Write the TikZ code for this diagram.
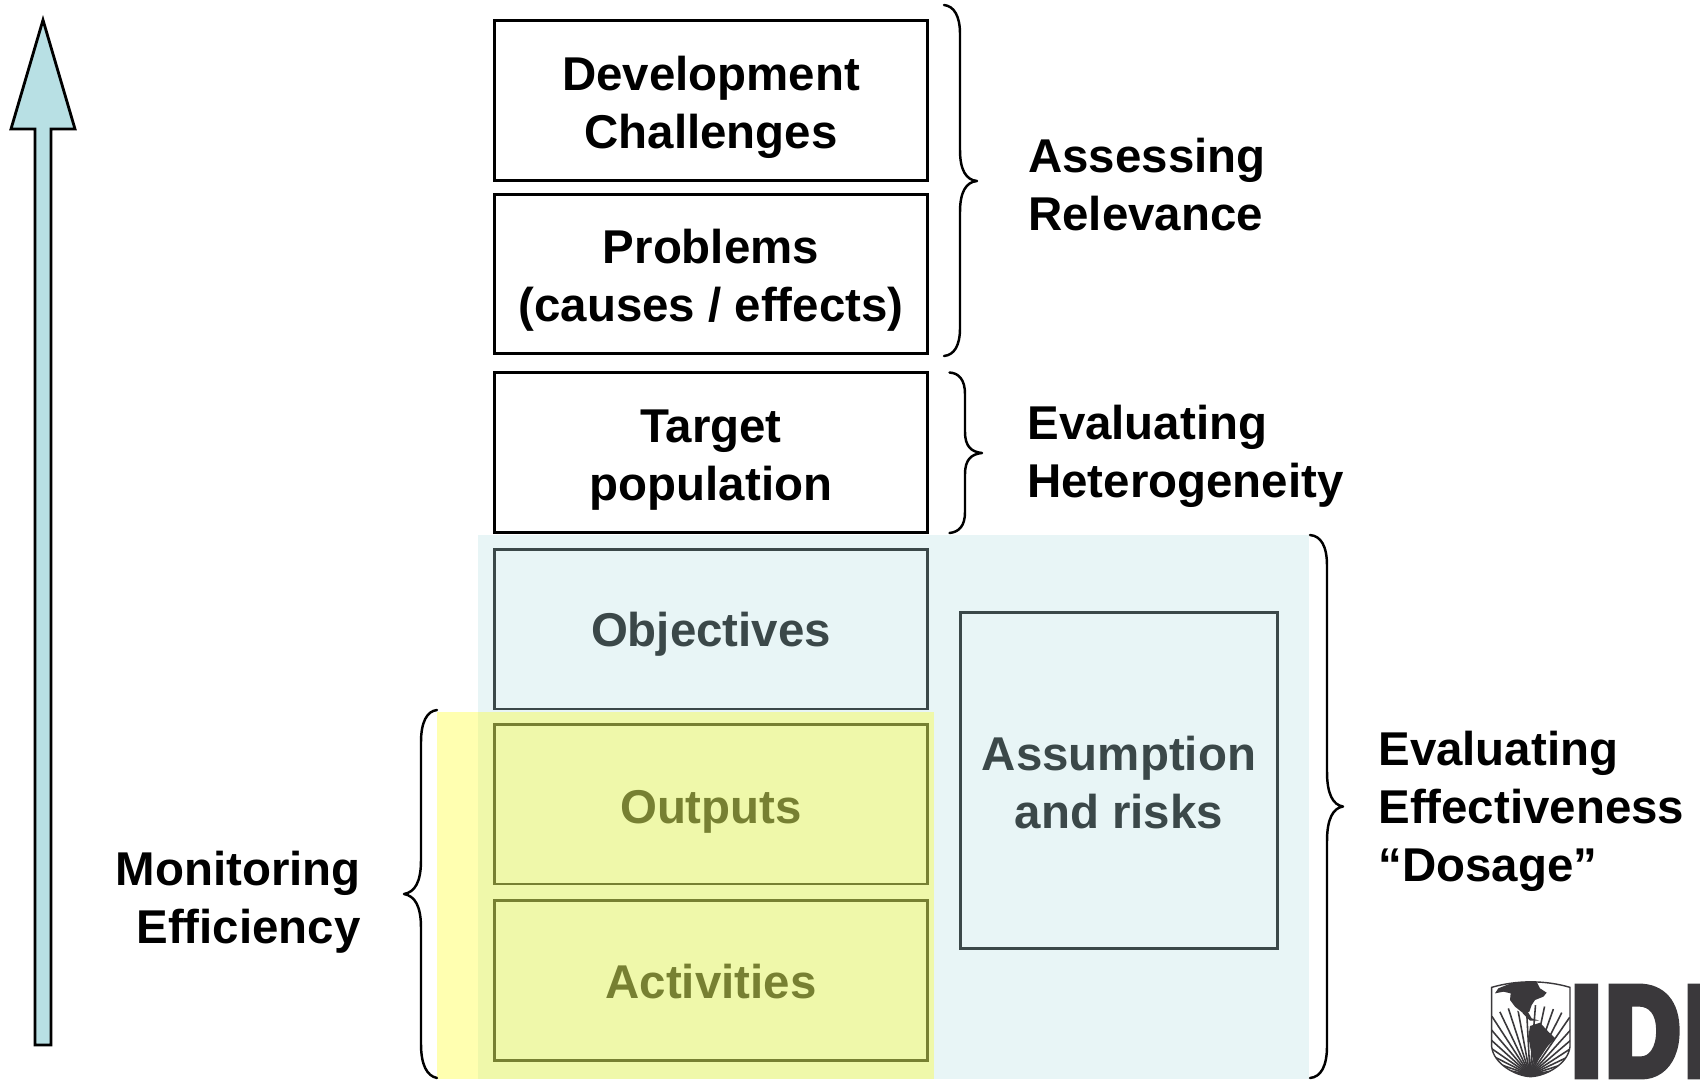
\documentclass[tikz,border=0pt]{standalone}
\usepackage{fontspec}
\setmainfont{Liberation Sans}
\newfontfamily\logofont[FakeBold=7,FakeStretch=0.8,LetterSpace=4.7]{Liberation Sans}
\definecolor{tealfill}{HTML}{B8E0E4}
\definecolor{veilyellow}{HTML}{FFFF00}
\definecolor{logodark}{HTML}{3A383B}
\tikzset{
  boxnode/.style={draw=black,line width=1.7pt,fill=none,inner sep=0pt,minimum width=8.68cm,minimum height=3.2cm},
  labelnode/.style={inner sep=0pt,font=\bfseries\fontsize{27}{33}\selectfont},
  bracepath/.style={draw=black,line width=1.4pt,line cap=round,line join=round},
  tealveil/.style={fill=tealfill,opacity=0.32,draw=none},
  yellowveil/.style={fill=veilyellow,opacity=0.31,draw=none},
  logoink/.style={fill=logodark,draw=none},
  logoline/.style={draw=logodark,line width=0.9pt}
}
\begin{document}
\begin{tikzpicture}[x=0.02cm,y=-0.02cm]
\useasboundingbox (0,0) rectangle (1700,1079);
\clip (0,0) rectangle (1700,1079);
% arrow
\draw[fill=tealfill,draw=black,line width=1.6pt,line join=miter]
  (43,20) -- (75,129) -- (51,129) -- (51,1045) -- (35,1045) -- (35,129) -- (11,129) -- cycle;
% boxes
\node[boxnode] (dev) at (711,100.5) {};
\node[boxnode] (prob) at (711,274) {};
\node[boxnode] (targ) at (711,452.5) {};
\node[boxnode] (obj) at (711,629) {};
\node[boxnode] (outp) at (711,804) {};
\node[boxnode] (act) at (711,980.5) {};
\node[boxnode,minimum width=6.36cm,minimum height=6.72cm] (assum) at (1119,780.5) {};
% box texts
\node[labelnode,align=center] (devt) at (711,107) {Development\\Challenges};
\node[labelnode,align=center] (probt) at (711,280.5) {Problems\\(causes / effects)};
\node[labelnode,align=center] (targt) at (711,460) {Target\\population};
\node[labelnode,align=center] (objt) at (711,634.5) {Objectives};
\node[labelnode,align=center] (outpt) at (711,811.5) {Outputs};
\node[labelnode,align=center] (actt) at (711,981.5) {Activities};
\node[labelnode,align=center] (assumt) at (1119,782.5) {Assumption\\and risks};
% veils
\fill[tealveil] (478,534.5) rectangle (1308.5,1079);
\fill[yellowveil] (437,712) rectangle (933.5,1079);
% braces
\draw[bracepath] (944,5) .. controls (954,6) and (960,16) .. (960,34) -- (960,150)
  .. controls (960,170) and (966,180) .. (977,181)
  .. controls (966,182) and (960,192) .. (960,212) -- (960,328)
  .. controls (960,346) and (954,355) .. (944,356);
\draw[bracepath] (949.5,372.5) .. controls (959,373) and (965,380) .. (965,394) -- (965,432)
  .. controls (965,446) and (971,452) .. (982,453)
  .. controls (971,454) and (965,460) .. (965,474) -- (965,512)
  .. controls (965,526) and (959,532) .. (949.5,533);
\draw[bracepath] (1310,535) .. controls (1321,536) and (1327,546) .. (1327,566) -- (1327,772)
  .. controls (1327,794) and (1333,805) .. (1343,806.5)
  .. controls (1333,808) and (1327,819) .. (1327,841) -- (1327,1046)
  .. controls (1327,1066) and (1321,1077) .. (1310,1078);
\draw[bracepath] (437,710) .. controls (427,711) and (421,722) .. (421,742) -- (421,860)
  .. controls (421,882) and (415,892) .. (404,894)
  .. controls (415,896) and (421,906) .. (421,928) -- (421,1044)
  .. controls (421,1065) and (427,1076) .. (437,1078);
% labels
\node[labelnode,anchor=west,align=left] (relev) at (1028,184.5) {Assessing\\Relevance};
\node[labelnode,anchor=west,align=left] (heter) at (1027,456) {Evaluating\\Heterogeneity};
\node[labelnode,anchor=west,align=left] (effect) at (1378,811) {Evaluating\\Effectiveness\\“Dosage”};
\node[labelnode,anchor=east,align=right] (monit) at (361,902.5) {Monitoring\\Efficiency};
% logo
\begin{scope}[shift={(1440,950)},x=0.02cm/3,y=-0.02cm/3]
  \begin{scope}
    \clip (155,112) .. controls (230,90) and (315,90) .. (390,112) -- (390,290)
      .. controls (385,340) and (320,378) .. (272,380) .. controls (225,378) and (160,340) .. (155,290) -- cycle;
    \foreach \a in {3,10.5,...,177} {
      \draw[logoline] (270,375) -- +({\a}:{210} and {-210});
    }
    \fill[white] (200,160) -- (230,97) -- (300,97) -- (330,150) -- (275,165) -- (265,200) -- (220,175) -- cycle;
    \fill[logoink] (270,378) ellipse (42 and 24);
    \fill[logoink] (165,130) -- (175,115) -- (200,105) -- (230,95) -- (290,95) -- (300,115) -- (320,128) -- (310,140) -- (285,150) -- (275,165) -- (268,185) -- (250,190) -- (225,170) -- (210,150) -- (212,130) -- (190,125) -- cycle;
    \fill[logoink] (248,190) -- (262,183) -- (275,205) -- (298,212) -- (270,212) -- cycle;
    \fill[logoink] (270,228) -- (300,218) -- (325,245) -- (346,265) -- (322,290) -- (302,320) -- (282,345) -- (272,300) -- (265,260) -- cycle;
  \end{scope}
  \draw[logodark,line width=0.8pt] (155,112) .. controls (230,90) and (315,90) .. (390,112) -- (390,290)
      .. controls (385,340) and (320,378) .. (272,380) .. controls (225,378) and (160,340) .. (155,290) -- cycle;
\end{scope}
\node[anchor=base west,inner sep=0pt,text=logodark,font=\logofont\bfseries\fontsize{72}{72}\selectfont] (logotext) at (1572,1075) {IDB};
\end{tikzpicture}
\end{document}
